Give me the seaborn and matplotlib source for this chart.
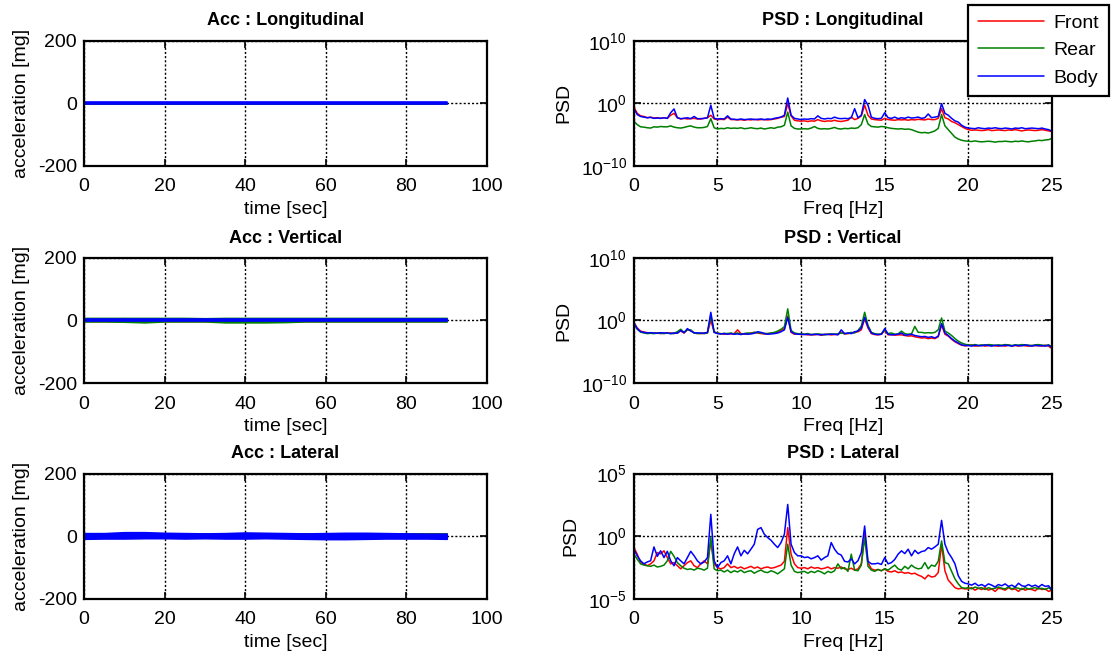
import numpy as np
import pandas as pd
import matplotlib
matplotlib.use("Agg")
import matplotlib.pyplot as plt
import seaborn as sns
from matplotlib.ticker import FixedLocator, NullLocator, LogFormatterMathtext

# -------- data --------
sensors = ["Front", "Rear", "Body"]
colors = {"Front": "#ff0000", "Rear": "#008000", "Body": "#0000ff"}

# frequency axis of the PSD panels, 0.2 Hz steps
freq = np.round(np.arange(0, 25.01, 0.2), 1)

# PSD values as log10, one row = 2 Hz
lon_front = [-0.6, -1.6, -2.0, -2.1, -2.3, -2.2, -2.35, -2.3, -2.4, -2.3,
             -2.4, -1.9, -1.6, -2.3, -2.5, -2.4, -2.5, -2.45, -2.4, -2.5,
             -2.5, -2.4, -2.3, -1.9, -2.5, -2.6, -2.55, -2.6, -2.2, -2.6,
             -2.6, -2.65, -2.6, -2.7, -2.6, -2.65, -2.55, -2.65, -2.6, -2.6,
             -2.65, -2.6, -2.5, -2.4, -2.2, -2.1, -0.05, -2.0, -2.7, -2.8,
             -2.85, -2.8, -2.9, -2.8, -2.85, -2.6, -2.8, -2.9, -2.8, -2.85,
             -2.7, -2.85, -2.9, -2.8, -2.7, -2.2, -2.6, -2.4, -2.0, -0.3,
             -1.9, -2.5, -2.6, -2.65, -2.7, -2.4, -2.6, -2.65, -2.7, -2.6,
             -2.65, -2.6, -2.7, -2.6, -2.65, -2.55, -2.6, -2.65, -2.5, -2.6,
             -2.6, -2.4, -0.85, -2.3, -2.5, -2.9, -3.1, -3.4, -3.7, -4.0,
             -4.2, -4.3, -4.25, -4.3, -4.35, -4.3, -4.2, -4.35, -4.3, -4.25,
             -4.3, -4.35, -4.25, -4.3, -4.2, -4.3, -4.4, -4.3, -4.25, -4.3,
             -4.35, -4.3, -4.2, -4.3, -4.4, -4.5]
lon_rear = [-2.85, -3.4, -3.75, -3.8, -3.9, -3.95, -3.75, -3.8, -3.7, -3.75,
            -3.75, -3.6, -3.8, -3.9, -3.95, -3.85, -3.7, -3.6, -3.8, -3.9,
            -3.9, -3.85, -3.7, -2.45, -3.9, -4.1, -4.0, -4.05, -3.9, -4.0,
            -3.95, -4.0, -3.9, -4.05, -4.0, -3.9, -4.0, -4.05, -3.95, -4.1,
            -4.0, -3.9, -4.0, -3.8, -3.75, -3.5, -1.4, -3.6, -4.0, -4.1,
            -4.1, -4.05, -4.1, -3.95, -3.7, -4.0, -4.1, -4.05, -4.1, -4.0,
            -3.85, -4.05, -4.1, -4.0, -4.05, -3.95, -4.0, -3.9, -3.4, -1.8,
            -3.3, -3.7, -3.75, -3.8, -3.7, -3.75, -3.9, -4.0, -4.05, -4.1,
            -4.05, -4.15, -4.1, -4.2, -4.4, -4.6, -4.7, -4.65, -4.75, -4.6,
            -4.4, -4.0, -1.8, -3.6, -4.2, -4.8, -5.4, -5.7, -5.9, -6.0,
            -6.05, -6.1, -6.0, -6.1, -6.15, -6.1, -6.05, -6.1, -6.2, -6.1,
            -6.1, -6.05, -6.1, -6.15, -6.05, -6.1, -6.0, -6.1, -6.15, -6.05,
            -6.0, -5.9, -5.95, -5.85, -5.8, -5.6]
lon_body = [-0.85, -1.8, -2.1, -2.2, -2.3, -2.25, -2.4, -2.35, -2.4, -2.3,
            -2.4, -1.5, -0.9, -2.3, -2.45, -2.4, -2.3, -2.45, -2.1, -2.45,
            -2.45, -2.4, -2.3, -0.3, -2.4, -2.5, -2.45, -2.5, -2.0, -2.5,
            -2.55, -2.6, -2.5, -2.6, -2.55, -2.5, -2.6, -2.55, -2.5, -2.6,
            -2.5, -2.55, -2.4, -2.3, -2.2, -1.9, 0.85, -1.9, -2.4, -2.5,
            -2.6, -2.5, -2.55, -2.45, -2.5, -2.0, -2.4, -2.5, -2.4, -2.45,
            -2.2, -2.4, -2.45, -2.4, -2.45, -2.3, -0.85, -2.3, -1.9, 0.6,
            -0.3, -2.2, -2.4, -2.45, -2.4, -1.5, -2.3, -2.4, -2.2, -2.45,
            -2.3, -2.4, -2.2, -2.35, -2.3, -2.2, -2.4, -2.3, -1.7, -2.3,
            -2.2, -2.1, -0.05, -1.6, -1.9, -2.4, -2.8, -3.0, -3.5, -3.8,
            -3.95, -4.0, -4.05, -3.9, -4.0, -4.05, -3.95, -4.0, -3.9, -4.0,
            -4.05, -3.95, -4.0, -4.1, -3.95, -4.0, -3.9, -4.05, -4.0, -3.95,
            -4.0, -4.05, -3.95, -4.1, -4.2, -4.45]

ver_front = [-0.3, -1.2, -1.7, -1.85, -1.95, -2.0, -2.05, -2.0, -2.1, -2.0,
             -2.05, -2.0, -2.1, -1.9, -1.7, -2.0, -1.5, -1.6, -2.0, -2.05,
             -2.1, -2.0, -1.95, 0.0, -1.8, -2.05, -2.1, -2.2, -2.1, -2.15,
             -2.1, -1.5, -2.1, -2.2, -2.15, -2.0, -1.9, -2.0, -2.1, -2.15,
             -2.1, -2.05, -2.0, -1.9, -1.6, -1.3, 0.7, -1.9, -2.2, -2.15,
             -2.25, -2.2, -2.3, -2.25, -2.3, -2.2, -2.35, -2.25, -2.2, -2.3,
             -2.25, -2.2, -1.9, -2.15, -2.1, -2.0, -1.9, -1.8, -1.5, 0.3,
             -1.2, -2.1, -2.25, -2.3, -2.2, -1.6, -2.3, -2.25, -2.35, -2.3,
             -2.3, -2.4, -2.5, -2.45, -2.6, -2.7, -2.8, -2.75, -2.9, -2.8,
             -2.9, -2.6, -0.7, -2.2, -2.5, -3.0, -3.4, -3.7, -3.95, -4.05,
             -4.0, -3.9, -4.1, -4.05, -3.95, -4.1, -4.0, -3.95, -4.05, -4.1,
             -4.0, -4.1, -3.95, -4.05, -4.0, -4.1, -3.95, -4.05, -4.1, -4.0,
             -4.05, -4.0, -4.1, -3.95, -4.1, -4.5]
ver_rear = [-0.5, -1.4, -1.85, -2.0, -2.1, -2.05, -2.1, -2.0, -2.05, -2.1,
            -2.0, -2.1, -2.05, -1.8, -1.4, -1.9, -1.5, -1.5, -2.0, -2.1,
            -2.05, -2.1, -2.0, 0.8, -1.9, -2.0, -2.15, -2.05, -2.1, -2.0,
            -2.15, -2.0, -2.2, -2.1, -2.0, -2.05, -1.9, -1.95, -2.0, -2.05,
            -2.1, -2.0, -1.9, -1.7, -1.4, -1.0, 1.85, -1.6, -2.0, -2.1,
            -2.15, -2.2, -2.1, -2.25, -2.2, -2.15, -2.2, -2.3, -2.2, -2.15,
            -2.2, -2.15, -2.0, -2.1, -2.05, -1.9, -2.0, -1.6, -0.9, 1.3,
            -0.8, -1.9, -2.1, -2.2, -2.15, -1.5, -2.1, -2.0, -2.2, -2.15,
            -1.7, -2.1, -2.2, -2.15, -0.95, -1.9, -1.9, -2.0, -1.95, -2.0,
            -1.9, -1.5, 0.4, -1.7, -2.0, -2.4, -2.9, -3.3, -3.6, -3.8,
            -3.9, -3.95, -3.85, -4.0, -3.9, -3.95, -3.85, -3.9, -4.0, -3.9,
            -3.95, -3.85, -3.9, -4.0, -3.9, -3.95, -3.85, -3.9, -3.95, -4.0,
            -3.9, -3.85, -3.95, -4.0, -3.9, -4.2]
ver_body = [-0.4, -1.3, -1.8, -1.9, -2.0, -1.95, -2.0, -2.05, -1.95, -2.0,
            -2.0, -2.1, -2.0, -2.05, -1.6, -1.95, -1.3, -1.7, -1.95, -2.0,
            -2.0, -2.05, -1.9, 1.3, -1.9, -2.1, -2.15, -2.1, -2.2, -2.1,
            -2.2, -2.15, -2.25, -2.1, -2.2, -2.15, -2.05, -1.8, -1.9, -2.1,
            -2.2, -2.15, -2.1, -2.0, -1.8, -1.5, 0.5, -1.8, -2.1, -2.2,
            -2.2, -2.25, -2.2, -2.3, -2.2, -2.25, -2.3, -2.2, -2.25, -2.2,
            -2.2, -2.3, -1.5, -2.1, -2.0, -2.1, -1.8, -1.7, -1.2, 0.5,
            -1.0, -2.0, -2.2, -2.25, -2.2, -1.3, -2.2, -2.3, -2.25, -2.2,
            -2.0, -2.35, -2.3, -2.2, -2.4, -2.5, -2.6, -2.55, -2.7, -2.6,
            -2.8, -2.5, -0.5, -2.0, -2.4, -2.9, -3.3, -3.6, -3.9, -4.0,
            -4.0, -4.1, -3.95, -4.0, -4.05, -3.9, -4.0, -4.1, -3.95, -4.0,
            -4.05, -3.95, -4.0, -4.1, -3.95, -4.0, -4.05, -3.9, -4.0, -4.1,
            -3.95, -4.05, -4.0, -4.1, -3.95, -4.3]

lat_front = [-0.9, -1.43, -2.1, -2.2, -2.35, -2.2, -1.96, -1.3, -1.4, -1.16,
             -1.7, -2.2, -2.1, -2.35, -2.6, -2.35, -2.1, -1.96, -2.35, -2.5,
             -2.2, -1.96, -2.2, -0.4, -2.2, -2.5, -2.6, -2.5, -2.2, -2.5,
             -2.4, -2.55, -2.45, -2.6, -2.5, -2.4, -2.55, -2.45, -2.6, -2.5,
             -2.45, -2.55, -2.5, -2.4, -2.3, -2.0, 0.69, -1.43, -2.2, -2.5,
             -2.55, -2.5, -2.6, -2.45, -2.55, -2.5, -2.6, -2.55, -2.45, -2.6,
             -2.5, -2.55, -2.45, -2.6, -2.65, -2.55, -2.7, -2.6, -2.2, 0.16,
             -2.1, -2.6, -2.7, -2.65, -2.75, -2.6, -2.8, -2.85, -2.75, -2.9,
             -2.85, -2.95, -2.9, -3.0, -2.95, -3.1, -3.2, -3.4, -3.1, -3.25,
             -3.2, -2.9, -0.63, -2.75, -3.5, -3.8, -4.1, -4.2, -4.15, -4.2,
             -4.2, -4.1, -4.3, -4.15, -4.25, -4.1, -4.3, -4.2, -4.4, -4.15,
             -4.2, -4.3, -4.1, -4.25, -4.2, -4.4, -4.15, -4.3, -4.2, -4.25,
             -4.35, -4.1, -4.25, -4.2, -4.4, -4.3]
lat_rear = [-1.43, -1.83, -2.2, -2.3, -2.35, -2.4, -2.3, -2.45, -2.4, -2.3,
            -1.96, -1.2, -1.6, -2.1, -2.35, -2.55, -2.65, -2.6, -2.7, -2.55,
            -2.6, -2.7, -2.55, -0.1, -2.6, -2.75, -2.7, -2.85, -2.7, -2.9,
            -2.75, -2.85, -2.7, -2.9, -2.8, -2.75, -2.95, -2.8, -2.7, -2.85,
            -2.9, -2.75, -2.85, -3.0, -2.8, -2.6, -0.63, -2.3, -2.8, -2.9,
            -2.85, -2.8, -2.95, -2.8, -2.9, -2.75, -2.85, -3.0, -2.8, -2.9,
            -2.75, -2.2, -2.6, -2.5, -2.8, -1.43, -2.7, -2.75, -2.3, -0.1,
            -2.4, -2.7, -2.8, -2.65, -2.75, -2.6, -2.7, -2.5, -2.3, -2.6,
            -2.7, -2.4, -2.6, -2.3, -2.5, -2.6, -2.55, -2.1, -2.6, -2.3,
            -2.4, -2.0, -0.37, -2.1, -2.2, -2.8, -3.4, -3.8, -4.1, -4.15,
            -4.1, -4.2, -4.05, -4.15, -4.1, -4.25, -4.1, -4.2, -4.15, -4.05,
            -4.15, -4.2, -4.05, -4.2, -4.1, -4.15, -4.25, -4.1, -4.2, -4.15,
            -4.1, -4.2, -4.15, -4.25, -4.1, -4.3]
lat_body = [-1.03, -1.56, -1.96, -2.2, -2.05, -1.95, -0.85, -1.6, -1.16, -1.7,
            -1.2, -1.96, -2.35, -1.7, -1.96, -2.2, -1.7, -1.2, -1.55, -1.96,
            -2.2, -2.05, -1.7, 1.75, -1.96, -2.5, -2.1, -1.96, -1.56, -2.2,
            -1.4, -0.85, -1.56, -1.12, -1.4, -1.03, -0.63, 0.55, 0.69, 0.16,
            -0.1, -0.32, -0.63, -0.9, -0.5, 0.16, 2.54, -0.63, -1.3, -1.56,
            -1.56, -1.7, -1.65, -1.8, -1.7, -1.56, -1.9, -1.7, -1.56, -0.5,
            -1.03, -1.38, -1.5, -2.0, -2.05, -1.8, -2.2, -1.95, -1.3, 0.82,
            -2.0, -2.2, -2.2, -2.15, -2.25, -1.7, -2.2, -2.1, -1.85, -1.43,
            -1.16, -1.38, -1.03, -1.56, -1.12, -1.38, -1.22, -1.16, -0.9, -1.03,
            -0.85, -0.63, 1.27, -0.63, -1.3, -1.7, -2.2, -3.15, -3.6, -3.75,
            -3.8, -3.9, -3.75, -3.95, -3.85, -4.0, -3.8, -3.9, -4.05, -3.85,
            -3.95, -3.8, -4.0, -3.9, -4.05, -3.75, -3.95, -4.0, -3.85, -4.0,
            -3.9, -4.05, -3.85, -4.0, -3.95, -4.3]

# acceleration traces: band (max / min) every 5 s, in mg
t_env = [0, 5, 10, 15, 20, 25, 30, 35, 40, 45, 50, 55, 60, 65, 70, 75, 80, 85, 90]
lon_acc = {
    "Front": ([2] * 19, [-2] * 19),
    "Rear": ([2] * 19, [-2] * 19),
    "Body": ([3] * 19, [-3] * 19),
}
ver_acc = {
    "Front": ([5, 6, 7, 6, 5, 5, 5, 5, 5, 5, 5, 5, 5, 5, 5, 5, 5, 5, 5],
              [-2] * 19),
    "Rear": ([8, 8, 8, 8, 8, 8, 7, 8, 8, 8, 8, 8, 8, 8, 8, 8, 8, 8, 8],
             [-3, -3, -4, -6, -3, -3, -3, -6, -6, -6, -5, -3, -3, -3, -3, -3, -3, -3, -3]),
    "Body": ([6] * 19, [-2] * 19),
}
lat_acc = {
    "Front": ([8] * 19, [-6] * 19),
    "Rear": ([8] * 19, [-6] * 19),
    "Body": ([10, 10, 13, 13, 11, 10, 9, 10, 12, 11, 10, 9, 10, 11, 11, 10, 9, 8, 8],
             [-8, -7, -7, -6, -6, -7, -6, -7, -7, -6, -7, -8, -9, -9, -8, -7, -7, -7, -8]),
}

acc_titles = ["Acc : Longitudinal", "Acc : Vertical", "Acc : Lateral"]
psd_titles = ["PSD : Longitudinal", "PSD : Vertical", "PSD : Lateral"]
psd_sets = [(lon_front, lon_rear, lon_body),
            (ver_front, ver_rear, ver_body),
            (lat_front, lat_rear, lat_body)]
acc_sets = [lon_acc, ver_acc, lat_acc]
psd_ylims = [(1e-10, 1e10), (1e-10, 1e10), (1e-5, 1e5)]

# -------- style --------
sns.set_theme(style="ticks")
plt.rcParams["font.family"] = ["Liberation Sans", "DejaVu Sans"]
plt.rcParams["mathtext.fontset"] = "custom"
plt.rcParams["mathtext.rm"] = "Liberation Sans"
plt.rcParams["mathtext.default"] = "regular"
plt.rcParams["axes.unicode_minus"] = False
plt.rcParams["text.color"] = "black"
plt.rcParams["axes.labelcolor"] = "black"
plt.rcParams["axes.edgecolor"] = "black"
plt.rcParams["axes.linewidth"] = 1.6
plt.rcParams["xtick.direction"] = "in"
plt.rcParams["ytick.direction"] = "in"
plt.rcParams["xtick.top"] = True
plt.rcParams["ytick.right"] = True

fig = plt.figure(figsize=(11.16, 6.56), dpi=100)
fig.patch.set_facecolor("white")

rows_bottom = [0.747, 0.416, 0.087]
row_h = 0.191


def style_axes(ax):
    ax.tick_params(axis="both", labelsize=14, colors="black", length=5, width=1.2,
                   top=True, right=True)
    ax.tick_params(axis="x", pad=9)
    ax.tick_params(axis="y", pad=5)
    ax.grid(True, linestyle=(0, (1.5, 1.5)), color="black", linewidth=1.0)
    for s in ax.spines.values():
        s.set_linewidth(1.6)


for i in range(3):
    # ---- acceleration panel ----
    ax = fig.add_axes([0.0753, rows_bottom[i], 0.3611, row_h])
    for name in sensors:
        hi, lo = acc_sets[i][name]
        ax.fill_between(t_env, lo, hi, color=colors[name], linewidth=1.2,
                        edgecolor=colors[name])
    ax.set_xlim(0, 100)
    ax.set_ylim(-200, 200)
    ax.set_xticks([0, 20, 40, 60, 80, 100])
    ax.set_yticks([-200, 0, 200])
    ax.set_title(acc_titles[i], fontsize=13, fontweight="bold", pad=11)
    ax.set_xlabel("time [sec]", fontsize=14, labelpad=4)
    ax.set_ylabel("acceleration [mg]", fontsize=14, labelpad=6)
    style_axes(ax)

    # ---- PSD panel ----
    ax = fig.add_axes([0.568, rows_bottom[i], 0.3746, row_h])
    front, rear, body = psd_sets[i]
    df = pd.DataFrame({
        "freq": np.concatenate([freq, freq, freq]),
        "psd": 10.0 ** np.array(front + rear + body),
        "sensor": ["Front"] * len(freq) + ["Rear"] * len(freq) + ["Body"] * len(freq),
    })
    sns.lineplot(data=df, x="freq", y="psd", hue="sensor", hue_order=sensors,
                 palette=colors, estimator=None, linewidth=1.1, ax=ax,
                 legend=False)
    ax.set_yscale("log")
    ax.set_xlim(0, 25)
    ax.set_ylim(*psd_ylims[i])
    ax.set_xticks([0, 5, 10, 15, 20, 25])
    lo, hi = psd_ylims[i]
    ax.yaxis.set_major_locator(FixedLocator([lo, 1.0, hi]))
    ax.yaxis.set_minor_locator(NullLocator())
    ax.yaxis.set_major_formatter(LogFormatterMathtext())
    ax.set_title(psd_titles[i], fontsize=13, fontweight="bold", pad=11)
    ax.set_xlabel("Freq [Hz]", fontsize=14, labelpad=4)
    ax.set_ylabel("PSD", fontsize=14, labelpad=6)
    style_axes(ax)

# legend in the top right corner
handles = [plt.Line2D([], [], color=colors[n], linewidth=1.1) for n in sensors]
leg = fig.legend(handles, sensors, loc="upper right",
                 bbox_to_anchor=(0.9935, 0.993), fontsize=14, frameon=True,
                 fancybox=False, edgecolor="black", framealpha=1,
                 handlelength=3.4, borderpad=0.5, labelspacing=0.5,
                 handletextpad=0.5, borderaxespad=0)
leg.get_frame().set_linewidth(1.6)

fig.savefig("out.png", dpi=100, facecolor="white")
